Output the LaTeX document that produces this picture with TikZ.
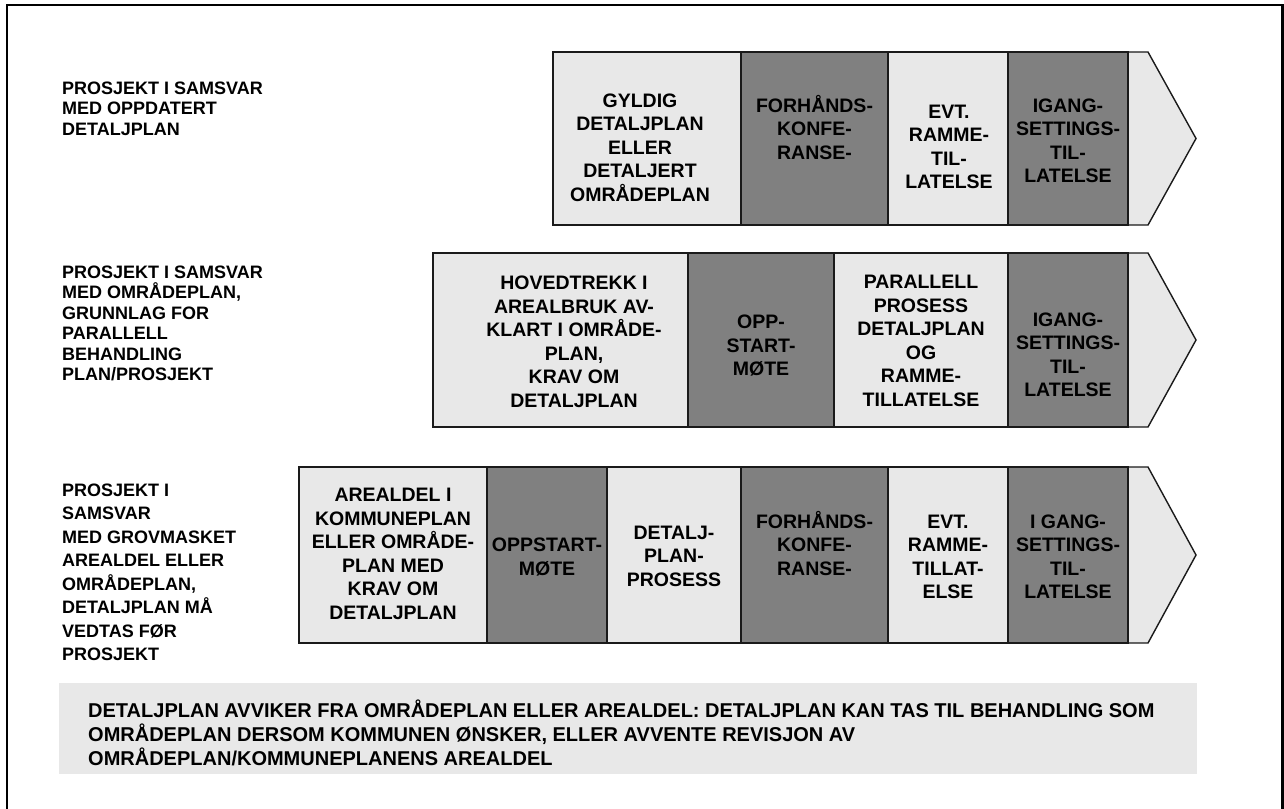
\documentclass[tikz,border=0pt]{standalone}
\usepackage{fontspec}
\setmainfont{Liberation Sans}
\definecolor{lightfill}{HTML}{E8E8E8}
\definecolor{darkfill}{HTML}{808080}
\definecolor{edge}{HTML}{1A1A1A}
\newcommand\bx[6]{\node[#2, minimum width={#5pt-#3pt}, minimum height={#6pt-#4pt}] (#1) at ({(#3+#5)/2},{(#4+#6)/2}) {};}
\begin{document}
\begin{tikzpicture}[x=1pt,y=-1pt,
  box/.style={draw=edge, line width=1.4pt, inner sep=0pt, outer sep=0pt},
  lbox/.style={box, fill=lightfill},
  dbox/.style={box, fill=darkfill},
  tippart/.style={draw=edge, line width=1.4pt, fill=lightfill, line join=miter},
  txt/.style={font=\bfseries\fontsize{19.5}{23.5}\selectfont, align=center, inner sep=0pt, text=black},
  lbl/.style={font=\bfseries\fontsize{18}{20.5}\selectfont, align=left, anchor=north west, inner sep=0pt, text=black},
  lblwide/.style={lbl, font=\bfseries\fontsize{18}{23.5}\selectfont},
  note/.style={font=\bfseries\fontsize{20}{24}\selectfont, align=left, anchor=north west, inner sep=0pt, text=black},
  frame/.style={draw=black, line width=2.2pt}
]
\useasboundingbox (0,0) rectangle (1284,808);
% outer frame (bottom edge lies outside the picture)
\draw[frame] (7,820) -- (7,5.3) -- (1282.5,5.3) -- (1282.5,820);

% ---------- row 1 ----------
\draw[tippart] (1120,52) -- (1148,52) -- (1196,138.5) -- (1148,225) -- (1120,225) -- cycle;
\bx{r1a}{lbox}{553}{52}{741}{225}
\bx{r1b}{dbox}{741}{52}{888}{225}
\bx{r1c}{lbox}{888}{52}{1008}{225}
\bx{r1d}{dbox}{1008}{52}{1128}{225}
\node[txt] (t1a) at (640,147.5) {GYLDIG\\DETALJPLAN\\ELLER\\DETALJERT\\OMRÅDEPLAN};
\node[txt] (t1b) at (814.5,127) {FORHÅNDS-\\KONFE-\\RANSE-};
\node[txt] (t1c) at (949,147) {EVT.\\RAMME-\\TIL-\\LATELSE};
\node[txt] (t1d) at (1068,141) {IGANG-\\SETTINGS-\\TIL-\\LATELSE};

% ---------- row 2 ----------
\draw[tippart] (1120,253) -- (1148,253) -- (1196,340) -- (1148,427) -- (1120,427) -- cycle;
\bx{r2a}{lbox}{433}{253}{688}{427}
\bx{r2b}{dbox}{688}{253}{834}{427}
\bx{r2c}{lbox}{834}{253}{1008}{427}
\bx{r2d}{dbox}{1008}{253}{1128}{427}
\node[txt] (t2a) at (574,342) {HOVEDTREKK I\\AREALBRUK AV-\\KLART I OMRÅDE-\\PLAN,\\KRAV OM\\DETALJPLAN};
\node[txt] (t2b) at (761,346) {OPP-\\START-\\MØTE};
\node[txt] (t2c) at (921,341) {PARALLELL\\PROSESS\\DETALJPLAN\\OG\\RAMME-\\TILLATELSE};
\node[txt] (t2d) at (1068,355) {IGANG-\\SETTINGS-\\TIL-\\LATELSE};

% ---------- row 3 ----------
\draw[tippart] (1120,467) -- (1148,467) -- (1196,555) -- (1148,643) -- (1120,643) -- cycle;
\bx{r3a}{lbox}{299}{467}{487}{643}
\bx{r3b}{dbox}{487}{467}{607}{643}
\bx{r3c}{lbox}{607}{467}{741}{643}
\bx{r3d}{dbox}{741}{467}{888}{643}
\bx{r3e}{lbox}{888}{467}{1008}{643}
\bx{r3f}{dbox}{1008}{467}{1128}{643}
\node[txt] (t3a) at (393,554) {AREALDEL I\\KOMMUNEPLAN\\ELLER OMRÅDE-\\PLAN MED\\KRAV OM\\DETALJPLAN};
\node[txt] (t3b) at (547,557) {OPPSTART-\\MØTE};
\node[txt] (t3c) at (674,556) {DETALJ-\\PLAN-\\PROSESS};
\node[txt] (t3d) at (814.5,543) {FORHÅNDS-\\KONFE-\\RANSE-};
\node[txt] (t3e) at (948,557) {EVT.\\RAMME-\\TILLAT-\\ELSE};
\node[txt] (t3f) at (1068,557) {I GANG-\\SETTINGS-\\TIL-\\LATELSE};

% ---------- row labels ----------
\node[lbl] (l1) at (62,81.5) {PROSJEKT I SAMSVAR\\MED OPPDATERT\\DETALJPLAN};
\node[lbl] (l2) at (62,265.5) {PROSJEKT I SAMSVAR\\MED OMRÅDEPLAN,\\GRUNNLAG FOR\\PARALLELL\\BEHANDLING\\PLAN/PROSJEKT};
\node[lblwide] (l3) at (62,483.5) {PROSJEKT I\\SAMSVAR\\MED GROVMASKET\\AREALDEL ELLER\\OMRÅDEPLAN,\\DETALJPLAN MÅ\\VEDTAS FØR\\PROSJEKT};

% ---------- note ----------
\node[fill=lightfill, minimum width=1138pt, minimum height=91pt, inner sep=0pt] (nb) at (628,728.5) {};
\node[note] (nt) at (88,700) {DETALJPLAN AVVIKER FRA OMRÅDEPLAN ELLER AREALDEL: DETALJPLAN KAN TAS TIL BEHANDLING SOM\\OMRÅDEPLAN DERSOM KOMMUNEN ØNSKER, ELLER AVVENTE REVISJON AV\\OMRÅDEPLAN/KOMMUNEPLANENS AREALDEL};
\end{tikzpicture}
\end{document}
